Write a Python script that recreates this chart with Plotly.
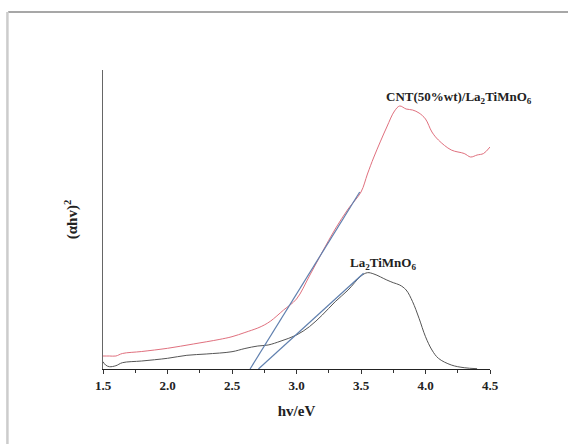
import plotly.graph_objects as go

# Photon energy (eV) and Tauc values (arbitrary units) for each sample
cnt_energy = [1.50, 1.55, 1.60, 1.65, 1.80, 2.00, 2.20, 2.40, 2.50, 2.60, 2.70, 2.75,
              2.80, 2.90, 3.00, 3.10, 3.20, 3.30, 3.40, 3.50, 3.55, 3.60, 3.70,
              3.76, 3.80, 3.85, 3.90, 3.95, 4.00, 4.05, 4.10, 4.20, 4.30, 4.35,
              4.40, 4.45, 4.50]
cnt_tauc = [13.0, 13.0, 13.0, 15.5, 17.5, 20.7, 25.0, 29.5, 32.3, 36.5, 41.0, 44.0,
            48.0, 59.0, 70.0, 93.0, 117.0, 140.0, 160.0, 177.0, 195.0, 212.0, 242.0,
            258.0, 263.0, 260.0, 259.0, 256.0, 250.0, 237.0, 229.0, 219.0, 215.5, 212.0,
            214.0, 215.5, 222.0]

ltmo_energy = [1.50, 1.52, 1.55, 1.60, 1.65, 1.80, 2.00, 2.15, 2.30, 2.50, 2.60,
               2.70, 2.78, 2.88, 3.00, 3.10, 3.20, 3.30, 3.40, 3.50, 3.55, 3.60,
               3.70, 3.75, 3.80, 3.85, 3.90, 3.95, 4.00, 4.05, 4.10, 4.20, 4.30, 4.40]
ltmo_tauc = [7.3, 4.0, 2.3, 3.3, 6.3, 8.0, 10.7, 13.7, 15.0, 17.3, 20.5,
             23.0, 24.0, 28.0, 34.0, 42.3, 54.0, 67.3, 79.0, 93.0, 96.3, 95.0,
             89.0, 86.3, 84.0, 79.0, 67.3, 50.7, 32.3, 19.0, 10.7, 4.0, 1.3, 0.3]

# Linear fits of the absorption edges (start and end points)
fit_cnt_energy = [2.64, 3.49]
fit_cnt_tauc = [0.0, 177.0]
fit_ltmo_energy = [2.705, 3.52]
fit_ltmo_tauc = [0.0, 95.7]

x_ticks = [1.5, 2.0, 2.5, 3.0, 3.5, 4.0, 4.5]
x_tick_text = ["1.5", "2.0", "2.5", "3.0", "3.5", "4.0", "4.5"]

serif = "Liberation Serif, Times New Roman, serif"

fig = go.Figure()
fig.add_trace(go.Scatter(x=cnt_energy, y=cnt_tauc, mode="lines",
                         line=dict(color="#e0707e", width=1), line_shape="spline"))
fig.add_trace(go.Scatter(x=ltmo_energy, y=ltmo_tauc, mode="lines",
                         line=dict(color="#555555", width=1), line_shape="spline"))
fig.add_trace(go.Scatter(x=fit_cnt_energy, y=fit_cnt_tauc, mode="lines",
                         line=dict(color="#5f7fae", width=1.2)))
fig.add_trace(go.Scatter(x=fit_ltmo_energy, y=fit_ltmo_tauc, mode="lines",
                         line=dict(color="#5f7fae", width=1.2)))

fig.update_layout(
    width=568, height=444,
    margin=dict(l=103, r=78, t=70, b=75),
    paper_bgcolor="white", plot_bgcolor="white",
    showlegend=False,
    font=dict(family=serif, color="#222222", size=13),
    xaxis=dict(
        range=[1.5, 4.5], tickvals=x_ticks, ticktext=x_tick_text,
        showline=True, linecolor="#222222", linewidth=1.2,
        ticks="outside", ticklen=4, tickwidth=1, tickcolor="#333333",
        minor=dict(ticks="outside", dtick=0.25, ticklen=3, tickcolor="#333333"),
        showgrid=False, zeroline=False,
        tickfont=dict(family=serif, size=13, color="#222222", weight="bold"),
        title=dict(text="<b>hv/eV</b>", font=dict(family=serif, size=15), standoff=13),
    ),
    yaxis=dict(
        range=[0, 299], showline=True, linecolor="#666666", linewidth=1.2,
        showticklabels=False, ticks="", showgrid=False, zeroline=False,
        title=dict(text="<b>(αhv)<sup>2</sup></b>", font=dict(family=serif, size=15),
                   standoff=20),
    ),
)

# Sample labels
fig.add_annotation(x=4.26, y=272, xref="x", yref="y", showarrow=False,
                   text="<b>CNT(50%wt)/La<sub>2</sub>TiMnO<sub>6</sub></b>",
                   font=dict(family=serif, size=13, color="#222222"))
fig.add_annotation(x=3.67, y=106, xref="x", yref="y", showarrow=False,
                   text="<b>La<sub>2</sub>TiMnO<sub>6</sub></b>",
                   font=dict(family=serif, size=13, color="#222222"))

# Outer frame around the figure
fig.add_shape(type="line", xref="paper", yref="paper",
              x0=-0.245, x1=1.3, y0=1.194, y1=1.194,
              line=dict(color="#8a8a8a", width=1.5))
fig.add_shape(type="line", xref="paper", yref="paper",
              x0=-0.247, x1=-0.247, y0=1.194, y1=-0.4,
              line=dict(color="#cccccc", width=2.5))

fig.write_html("out.html")
